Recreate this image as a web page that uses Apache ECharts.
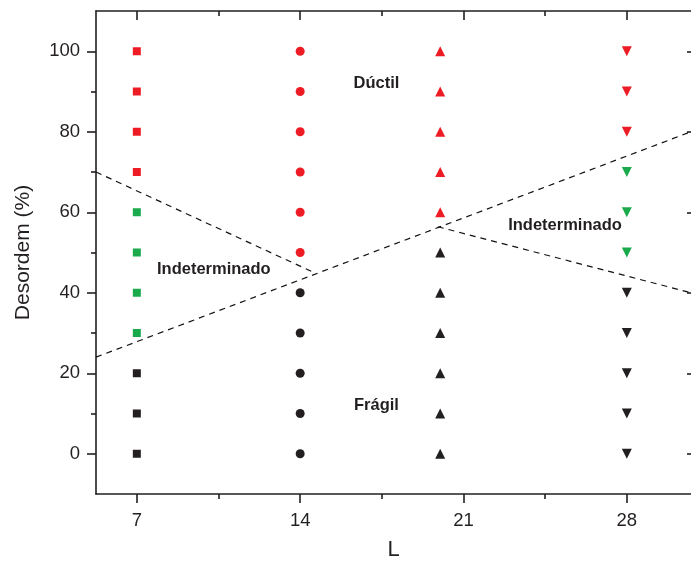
<!DOCTYPE html>
<html>
<head>
<meta charset="utf-8">
<script src="https://cdn.jsdelivr.net/npm/echarts@6/dist/echarts.min.js"></script>
<style>html,body{margin:0;padding:0;background:#fff}#c{width:691px;height:566px}</style>
</head>
<body>
<div id="c"></div>
<script>
// ---- data ----
const xTicks = [7, 14, 21, 28];
const xMinorTicks = [10.5, 17.5, 24.5];
const yTicks = [0, 20, 40, 60, 80, 100];
const yMinorTicks = [10, 30, 50, 70, 90];

// L = 7 (squares)
const L7_fragil = [0, 10, 20];
const L7_indet = [30, 40, 50, 60];
const L7_ductil = [70, 80, 90, 100];
// L = 14 (circles)
const L14_fragil = [0, 10, 20, 30, 40];
const L14_ductil = [50, 60, 70, 80, 90, 100];
// L = 20 (up triangles)
const L20_fragil = [0, 10, 20, 30, 40, 50];
const L20_ductil = [60, 70, 80, 90, 100];
// L = 28 (down triangles)
const L28_fragil = [0, 10, 20, 30, 40];
const L28_indet = [50, 60, 70];
const L28_ductil = [80, 90, 100];

// dashed boundary lines
const boundary1 = [[5.25, 70], [14.6, 45]];
const boundary2 = [[5.25, 24], [30.75, 80]];
const boundary3 = [[19.9, 56.4], [30.75, 40]];

// region labels
const regionNames = ['Dúctil', 'Indeterminado', 'Indeterminado', 'Frágil'];
const regionL = [17.27, 10.3, 25.35, 17.27];
const regionD = [92.1, 45.9, 56.8, 12.1];

// ---- styles ----
const RED = '#ed1c24', GREEN = '#1aaa4b', BLACK = '#231f20';
const AX = '#231f20';
const FONT = 'Liberation Sans, Arial, sans-serif';

function pts(L, arr) { return arr.map(v => [L, v]); }
function sc(L, arr, symbol, color, size, rotate) {
  return {
    type: 'scatter', xAxisIndex: 0, yAxisIndex: 0,
    data: pts(L, arr), symbol: symbol, symbolSize: size, symbolRotate: rotate || 0,
    itemStyle: { color: color, opacity: 1 }, silent: true, z: 3
  };
}
function dash(data) {
  return {
    type: 'line', xAxisIndex: 0, yAxisIndex: 0, data: data, symbol: 'none',
    lineStyle: { color: '#111', width: 1.2, type: [6, 5] }, silent: true, z: 2
  };
}

const xMin = 5.25, xMax = 30.75, yMin = -10, yMax = 110;
const baseX = { type: 'value', min: xMin, max: xMax, splitLine: { show: false } };
const baseY = { type: 'value', min: yMin, max: yMax, splitLine: { show: false } };
const lineOn = { show: true, onZero: false, lineStyle: { color: AX, width: 1.6 } };
const lineOff = { show: false, onZero: false };

const option = {
  animation: false,
  grid: { left: 96, top: 11, width: 596, height: 486, containLabel: false },
  xAxis: [
    Object.assign({}, baseX, {
      position: 'bottom',
      name: 'L', nameLocation: 'middle', nameGap: 45,
      nameTextStyle: { fontFamily: FONT, fontSize: 22, color: AX },
      axisLine: lineOn,
      axisTick: { show: true, inside: false, length: 9, lineStyle: { color: AX, width: 1.6 }, customValues: xTicks },
      axisLabel: { show: true, margin: 17, fontFamily: FONT, fontSize: 18.5, color: AX, customValues: xTicks }
    }),
    Object.assign({}, baseX, {
      position: 'bottom',
      axisLine: lineOff,
      axisTick: { show: true, inside: false, length: 5, lineStyle: { color: AX, width: 1.6 }, customValues: xMinorTicks },
      axisLabel: { show: false }
    }),
    Object.assign({}, baseX, {
      position: 'top',
      axisLine: lineOn,
      axisTick: { show: true, inside: true, length: 9, lineStyle: { color: AX, width: 1.6 }, customValues: xTicks },
      axisLabel: { show: false }
    }),
    Object.assign({}, baseX, {
      position: 'top',
      axisLine: lineOff,
      axisTick: { show: true, inside: true, length: 5, lineStyle: { color: AX, width: 1.6 }, customValues: xMinorTicks },
      axisLabel: { show: false }
    })
  ],
  yAxis: [
    Object.assign({}, baseY, {
      position: 'left',
      name: 'Desordem (%)', nameLocation: 'middle', nameGap: 62, nameRotate: 90,
      nameTextStyle: { fontFamily: FONT, fontSize: 21, color: AX },
      axisLine: lineOn,
      axisTick: { show: true, inside: false, length: 9, lineStyle: { color: AX, width: 1.6 }, customValues: yTicks },
      axisLabel: { show: true, margin: 16, fontFamily: FONT, fontSize: 18.5, color: AX, customValues: yTicks }
    }),
    Object.assign({}, baseY, {
      position: 'left',
      axisLine: lineOff,
      axisTick: { show: true, inside: false, length: 5, lineStyle: { color: AX, width: 1.6 }, customValues: yMinorTicks },
      axisLabel: { show: false }
    }),
    Object.assign({}, baseY, {
      position: 'right',
      axisLine: lineOff,
      axisTick: { show: true, inside: true, length: 4, lineStyle: { color: AX, width: 1.6 }, customValues: yTicks },
      axisLabel: { show: false }
    })
  ],
  series: [
    dash(boundary1), dash(boundary2), dash(boundary3),
    sc(7, L7_fragil, 'rect', BLACK, 8),
    sc(7, L7_indet, 'rect', GREEN, 8),
    sc(7, L7_ductil, 'rect', RED, 8),
    sc(14, L14_fragil, 'circle', BLACK, 9),
    sc(14, L14_ductil, 'circle', RED, 9),
    sc(20, L20_fragil, 'triangle', BLACK, 10),
    sc(20, L20_ductil, 'triangle', RED, 10),
    sc(28, L28_fragil, 'triangle', BLACK, 10, 180),
    sc(28, L28_indet, 'triangle', GREEN, 10, 180),
    sc(28, L28_ductil, 'triangle', RED, 10, 180),
    {
      type: 'scatter', xAxisIndex: 0, yAxisIndex: 0, symbolSize: 0, silent: true, z: 4,
      itemStyle: { opacity: 1 },
      data: regionNames.map((n, i) => ({ name: n, value: [regionL[i], regionD[i]] })),
      label: {
        show: true, position: 'inside', formatter: p => p.name,
        fontFamily: FONT, fontSize: 16.5, fontWeight: 'bold', color: BLACK, opacity: 1
      }
    }
  ]
};

const chart = echarts.init(document.getElementById('c'), null, { renderer: 'canvas' });
chart.setOption(option);
</script>
</body>
</html>
